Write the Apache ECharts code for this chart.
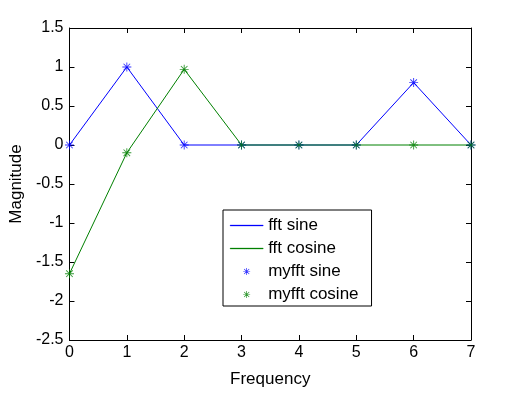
<!DOCTYPE html>
<html>
<head>
<meta charset="utf-8">
<script src="https://cdn.jsdelivr.net/npm/echarts@6/dist/echarts.min.js"></script>
<style>html,body{margin:0;padding:0;background:#fff;}#c{width:520px;height:393px;}</style>
</head>
<body>
<div id="c"></div>
<script>
var freq = [0, 1, 2, 3, 4, 5, 6, 7];
var fftSine = [0, 1, 0, 0, 0, 0, 0.8, 0];
var fftCosine = [-1.65, -0.1, 0.97, 0, 0, 0, 0, 0];
var myfftSine = [0, 1, 0, 0, 0, 0, 0.8, 0];
var myfftCosine = [-1.65, -0.1, 0.97, 0, 0, 0, 0, 0];
var seriesNames = ['fft sine', 'fft cosine', 'myfft sine', 'myfft cosine'];

function pairs(ys){ return freq.map(function(x,i){ return [x, ys[i]]; }); }
var star = 'path://M0,4.5L10,4.5L10,5.5L0,5.5Z M4.5,0L5.5,0L5.5,10L4.5,10Z M1,1.7L1.7,1L9,8.3L8.3,9Z M8.3,1L9,1.7L1.7,9L1,8.3Z';
var lineIcon = 'path://M0,0L33,0L33,1L0,1Z';
var blue = '#0000ff', green = '#008000';
var font = 'Liberation Sans, Arial, Helvetica, sans-serif';
var chart = echarts.init(document.getElementById('c'), null, {renderer:'canvas'});
var axisCommon = {
  axisLine:{show:true, onZero:false, lineStyle:{color:'#000', width:1}},
  axisTick:{show:true, inside:true, length:5, lineStyle:{color:'#000'}},
  splitLine:{show:false}
};
chart.setOption({
  backgroundColor:'#fff',
  animation:false,
  color:[blue, green, blue, green],
  grid:{left:68, top:28, right:49, bottom:49},
  xAxis:[
    Object.assign({type:'value', min:0, max:7, interval:1, position:'bottom',
      name:'Frequency', nameLocation:'middle', nameGap:31,
      nameTextStyle:{fontFamily:font, fontSize:17, color:'#000'},
      axisLabel:{fontFamily:font, fontSize:16, color:'#000', margin:5}}, axisCommon),
    Object.assign({type:'value', min:0, max:7, interval:1, position:'top', axisLabel:{show:false}}, axisCommon)
  ],
  yAxis:[
    Object.assign({type:'value', min:-2.5, max:1.5, interval:0.5, position:'left',
      name:'Magnitude', nameLocation:'middle', nameGap:42,
      nameTextStyle:{fontFamily:font, fontSize:17, color:'#000'},
      axisLabel:{fontFamily:font, fontSize:16, color:'#000', margin:6}}, axisCommon),
    Object.assign({type:'value', min:-2.5, max:1.5, interval:0.5, position:'right', axisLabel:{show:false}}, axisCommon)
  ],
  legend:{
    orient:'vertical', left:223, top:210,
    data:[
      {name:seriesNames[0], icon:lineIcon, itemStyle:{color:blue, borderColor:blue, borderWidth:0.3}},
      {name:seriesNames[1], icon:lineIcon, itemStyle:{color:green, borderColor:green, borderWidth:0.3}},
      {name:seriesNames[2], icon:star, itemStyle:{color:blue, borderWidth:0}},
      {name:seriesNames[3], icon:star, itemStyle:{color:green, borderWidth:0}}
    ],
    itemWidth:33, itemHeight:7, itemGap:0,
    padding:[4,13,0,7],
    borderColor:'#000', borderWidth:1, backgroundColor:'#fff',
    textStyle:{fontFamily:font, fontSize:17, color:'#000', lineHeight:23},
    selectedMode:false
  },
  series:[
    {name:seriesNames[0], type:'line', color:blue, data:pairs(fftSine), symbol:'none',
      lineStyle:{color:blue, width:1}, itemStyle:{color:blue}, z:2},
    {name:seriesNames[1], type:'line', color:green, data:pairs(fftCosine), symbol:'none',
      lineStyle:{color:green, width:1}, itemStyle:{color:green}, z:3},
    {name:seriesNames[2], type:'scatter', color:blue, data:pairs(myfftSine), symbol:star, symbolSize:9,
      itemStyle:{color:blue}, z:4},
    {name:seriesNames[3], type:'scatter', color:green, data:pairs(myfftCosine), symbol:star, symbolSize:9,
      itemStyle:{color:green}, z:5}
  ]
});
</script>
</body>
</html>
